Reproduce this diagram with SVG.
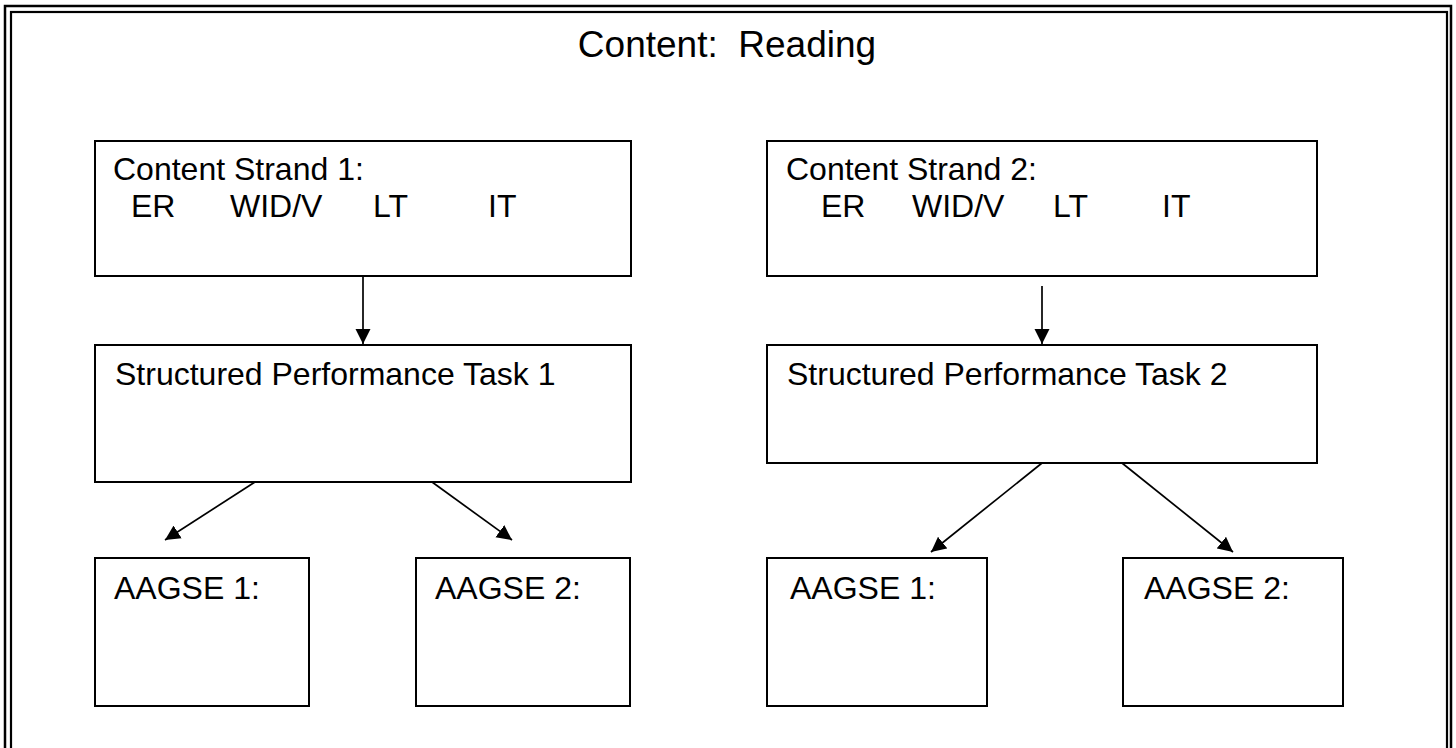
<svg xmlns="http://www.w3.org/2000/svg" width="1456" height="748" viewBox="0 0 1456 748">
<style>
.box{fill:#fff;stroke:#000;stroke-width:2}
.t{font-family:"Liberation Sans",Arial,sans-serif;font-size:32px;fill:#000}
.title{font-family:"Liberation Sans",Arial,sans-serif;font-size:37px;fill:#000}
.c{stroke:#000;stroke-width:1.7;fill:none;marker-end:url(#ah)}
</style>
<defs>
<marker id="ah" markerUnits="userSpaceOnUse" markerWidth="16" markerHeight="16" viewBox="0 0 16 16" refX="15" refY="8" orient="auto">
<path d="M0,0.5 L15,8 L0,15.5 Z" fill="#000"/>
</marker>
</defs>
<rect width="1456" height="748" fill="#fff"/>
<g id="frame" fill="none">
<rect x="5" y="6" width="1446" height="800" stroke="#000" stroke-width="2.5"/>
<rect x="11" y="12" width="1436" height="800" stroke="#000" stroke-width="2.2"/>
</g>
<g id="title"><text class="title" x="727" y="57" text-anchor="middle" xml:space="preserve">Content:  Reading</text></g>
<g id="connectors">
<line class="c" x1="363" y1="276" x2="363" y2="344"/>
<line class="c" x1="1042" y1="286" x2="1042" y2="344"/>
<line class="c" x1="255" y1="482" x2="165" y2="540"/>
<line class="c" x1="432" y1="482" x2="512" y2="540"/>
<line class="c" x1="1042" y1="463" x2="931" y2="552"/>
<line class="c" x1="1122" y1="463" x2="1233" y2="552"/>
</g>
<g id="cs1">
<rect class="box" x="95" y="141" width="536" height="135"/>
<text class="t" x="113" y="180">Content Strand 1:</text>
<text class="t" y="217"><tspan x="131">ER</tspan><tspan x="230">WID/V</tspan><tspan x="373">LT</tspan><tspan x="488">IT</tspan></text>
</g>
<g id="cs2">
<rect class="box" x="767" y="141" width="550" height="135"/>
<text class="t" x="786" y="180">Content Strand 2:</text>
<text class="t" y="217"><tspan x="821">ER</tspan><tspan x="912">WID/V</tspan><tspan x="1053">LT</tspan><tspan x="1162">IT</tspan></text>
</g>
<g id="spt1">
<rect class="box" x="95" y="345" width="536" height="137"/>
<text class="t" x="115" y="385">Structured Performance Task 1</text>
</g>
<g id="spt2">
<rect class="box" x="767" y="345" width="550" height="118"/>
<text class="t" x="787" y="385">Structured Performance Task 2</text>
</g>
<g id="aagse1-left">
<rect class="box" x="95" y="558" width="214" height="148"/>
<text class="t" x="114" y="599">AAGSE 1:</text>
</g>
<g id="aagse2-left">
<rect class="box" x="416" y="558" width="214" height="148"/>
<text class="t" x="435" y="599">AAGSE 2:</text>
</g>
<g id="aagse1-right">
<rect class="box" x="767" y="558" width="220" height="148"/>
<text class="t" x="790" y="599">AAGSE 1:</text>
</g>
<g id="aagse2-right">
<rect class="box" x="1123" y="558" width="220" height="148"/>
<text class="t" x="1144" y="599">AAGSE 2:</text>
</g>
</svg>
